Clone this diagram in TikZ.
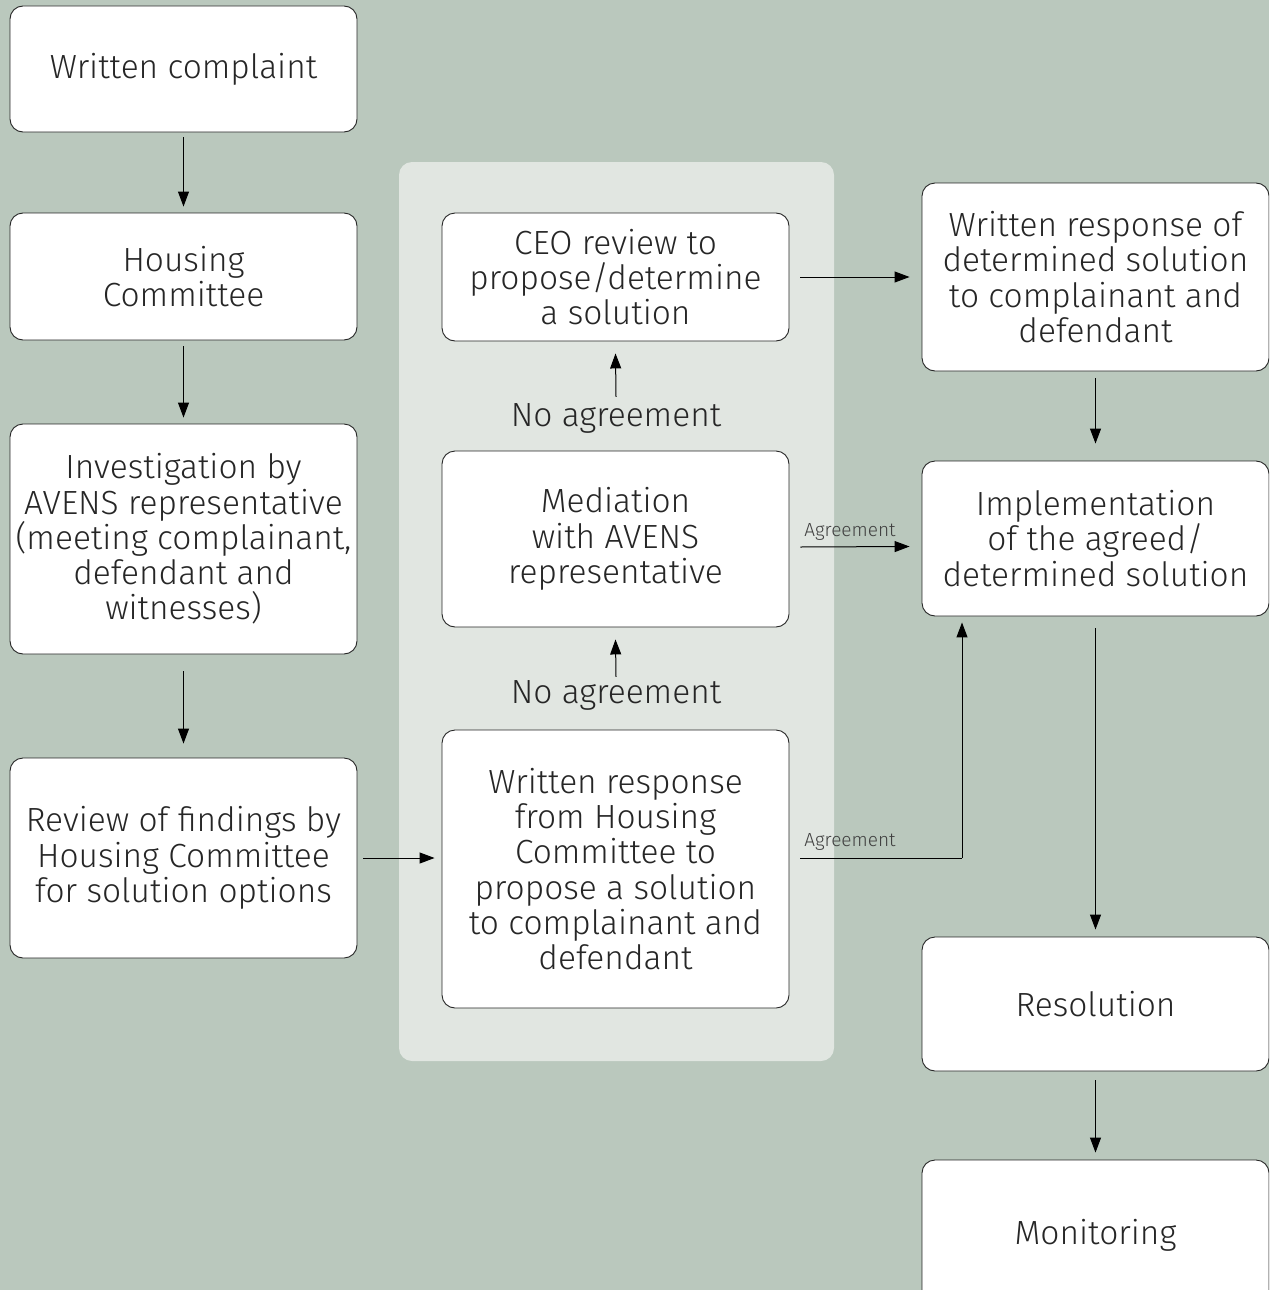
\documentclass[tikz,border=0pt]{standalone}
\usepackage{fontspec}
\setmainfont{Fira Sans}[UprightFont=* Light]
\usetikzlibrary{arrows.meta}
\definecolor{bgc}{HTML}{BAC8BD}
\definecolor{panelc}{HTML}{E1E6E1}
\tikzset{
  box/.style={draw=black!85, line width=0.9pt, fill=white, rounded corners=13pt, align=center, inner sep=0pt, font=\fontsize{33.5}{35.3}\selectfont, text=black!85},
  arr/.style={line width=1pt, -{Triangle[length=15pt,width=11pt]}},
  lab/.style={font=\fontsize{33.5}{35}\selectfont, text=black!85, inner sep=0pt},
  small/.style={font=\fontsize{19}{22}\selectfont, text=black!75, inner sep=0pt}
}
\begin{document}
\begin{tikzpicture}[x=1pt,y=-1pt]
\fill[bgc] (0,0) rectangle (1269,1290);
\clip (0,0) rectangle (1269,1290);
\useasboundingbox (0,0) rectangle (1269,1290);
\fill[panelc, rounded corners=13pt] (399,162) rectangle (834,1061);
% left column
\node[box, minimum width=347pt, minimum height=126pt] (wc) at (183.5,69) {Written complaint};
\node[box, minimum width=347pt, minimum height=127pt] (hc) at (183.5,276.5) {Housing\\Committee};
\node[box, minimum width=347pt, minimum height=230pt] (inv) at (183.5,539) {Investigation by\\AVENS representative\\(meeting complainant,\\defendant and\\witnesses)};
\node[box, minimum width=347pt, minimum height=200pt] (rev) at (183.5,858) {Review of findings by\\Housing Committee\\for solution options};
% middle column
\node[box, minimum width=347pt, minimum height=128pt] (ceo) at (615.5,277) {CEO review to\\propose/determine\\a solution};
\node[box, minimum width=347pt, minimum height=176pt] (med) at (615.5,539) {Mediation\\with AVENS\\representative};
\node[box, minimum width=347pt, minimum height=278pt] (wr) at (615.5,869) {Written response\\from Housing\\Committee to\\propose a solution\\to complainant and\\defendant};
\node[lab] (na1) at (616,418) {No agreement};
\node[lab] (na2) at (616,695) {No agreement};
% right column
\node[box, minimum width=347pt, minimum height=188pt] (wro) at (1095.5,277) {Written response of\\determined solution\\to complainant and\\defendant};
\node[box, minimum width=347pt, minimum height=155pt] (imp) at (1095.5,538.5) {Implementation\\of the agreed/\\determined solution};
\node[box, minimum width=347pt, minimum height=134pt] (res) at (1095.5,1004) {Resolution};
\node[box, minimum width=347pt, minimum height=150pt] (mon) at (1095.5,1235) {Monitoring};
\coordinate (c1) at (962,858);
% arrows
\draw[arr] ([yshift=-5pt]wc.south) -- ([yshift=6pt]hc.north);
\draw[arr] ([yshift=-6pt]hc.south) -- ([yshift=6pt]inv.north);
\draw[arr] ([yshift=-17pt]inv.south) -- ([yshift=14pt]rev.north);
\draw[arr] ([xshift=6pt]rev.east) -- ([xshift=-7pt]wr.west|-rev.east);
\draw[arr] ([yshift=6pt]na1.north) -- ([yshift=-12pt]ceo.south);
\draw[arr] ([yshift=3pt]na2.north) -- ([yshift=-12pt]med.south);
\draw[arr] ([xshift=11pt]ceo.east) -- ([xshift=-12pt]wro.west|-ceo.east);
\draw[arr] ([yshift=-7pt]wro.south) -- ([yshift=17pt]imp.north);
\draw[arr] ([xshift=11pt,yshift=-8pt]med.east) -- ([xshift=-12pt,yshift=-8pt]imp.west);
\node[small, anchor=south] (ag1) at (850,541) {Agreement};
\draw[line width=1pt] ([xshift=11pt]wr.east|-rev.east) -- (c1);
\draw[arr] (c1) -- ([yshift=-6pt]c1|-imp.south);
\node[small, anchor=south] (ag2) at (850,851) {Agreement};
\draw[arr] ([yshift=-12pt]imp.south) -- ([yshift=7pt]res.north);
\draw[arr] ([yshift=-9pt]res.south) -- ([yshift=7pt]mon.north);
\end{tikzpicture}
\end{document}
